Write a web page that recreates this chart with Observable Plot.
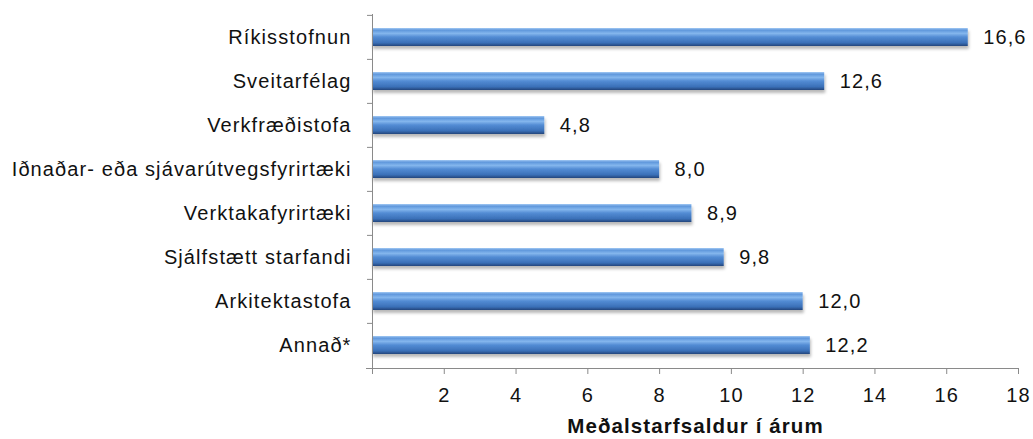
<!DOCTYPE html>
<html><head><meta charset="utf-8">
<script src="https://cdn.jsdelivr.net/npm/d3@7"></script>
<script src="https://cdn.jsdelivr.net/npm/@observablehq/plot@0.6"></script>
<style>body{margin:0;background:#fff}</style>
</head><body><div id="chart"></div>
<script>
const categories = ["Ríkisstofnun", "Sveitarfélag", "Verkfræðistofa", "Iðnaðar- eða sjávarútvegsfyrirtæki", "Verktakafyrirtæki", "Sjálfstætt starfandi", "Arkitektastofa", "Annað*"];
const values = [16.6, 12.6, 4.8, 8.0, 8.9, 9.8, 12.0, 12.2];
const xTicks = [0, 2, 4, 6, 8, 10, 12, 14, 16, 18];
const axisTitle = "Meðalstarfsaldur í árum";

const data = categories.map((c, i) => ({category: c, value: values[i]}));
const W = 1033, H = 439, mL = 372, mR = 15, mT = 14, mB = 71;
const step = (H - mT - mB) / categories.length;
const fmt = v => d3.format(".1f")(v).replace(".", ",");

const plot = Plot.plot({
  width: W, height: H,
  marginLeft: mL, marginRight: mR, marginTop: mT, marginBottom: mB,
  style: {fontFamily: "'Liberation Sans', Arial, sans-serif", fontSize: "20px", letterSpacing: "1.1px", color: "#000", background: "#fff", overflow: "visible"},
  x: {domain: [0, 18]},
  y: {domain: categories, paddingInner: 0.6, paddingOuter: 0.3},
  marks: [
    Plot.axisY({tickSize: 0, tickPadding: 21, label: null, fill: "#111"}),
    Plot.axisY({tickSize: 5, tickFormat: () => "", dy: -step / 2, stroke: "#8a8a8a", label: null}),
    Plot.axisX({ticks: xTicks, tickSize: 6, tickPadding: 13, tickFormat: d => d === 0 ? "" : String(d), stroke: "#8a8a8a", fill: "#111", label: null}),
    Plot.barX(data, {x: "value", y: "category", fill: "url(#barGrad)"}),
    Plot.text(data, {x: "value", y: "category", text: d => fmt(d.value), textAnchor: "start", dx: 15, fill: "#111"}),
    Plot.ruleX([0], {stroke: "#8a8a8a"}),
    Plot.frame({anchor: "bottom", stroke: "#8a8a8a", insetLeft: -6}),
    Plot.text([axisTitle], {frameAnchor: "bottom", lineAnchor: "middle", dy: 58, fontWeight: "bold", fontSize: 20.5, fill: "#111"})
  ]
});

const defs = document.createElementNS("http://www.w3.org/2000/svg", "defs");
defs.innerHTML = `
<linearGradient id="barGrad" x1="0" y1="0" x2="0" y2="1">
  <stop offset="0" stop-color="#a3caf4"/>
  <stop offset="0.12" stop-color="#5f97dc"/>
  <stop offset="0.3" stop-color="#84b6ed"/>
  <stop offset="0.5" stop-color="#538cd4"/>
  <stop offset="0.82" stop-color="#3a70b8"/>
  <stop offset="1" stop-color="#22467c"/>
</linearGradient>
<filter id="barShadow" x="-5%" y="-30%" width="110%" height="180%">
  <feDropShadow dx="1" dy="3" stdDeviation="1.8" flood-color="#000" flood-opacity="0.28"/>
</filter>`;
plot.prepend(defs);
d3.select(plot).selectAll("g[aria-label='bar']").attr("filter", "url(#barShadow)");
document.getElementById("chart").appendChild(plot);
</script>
</body></html>
